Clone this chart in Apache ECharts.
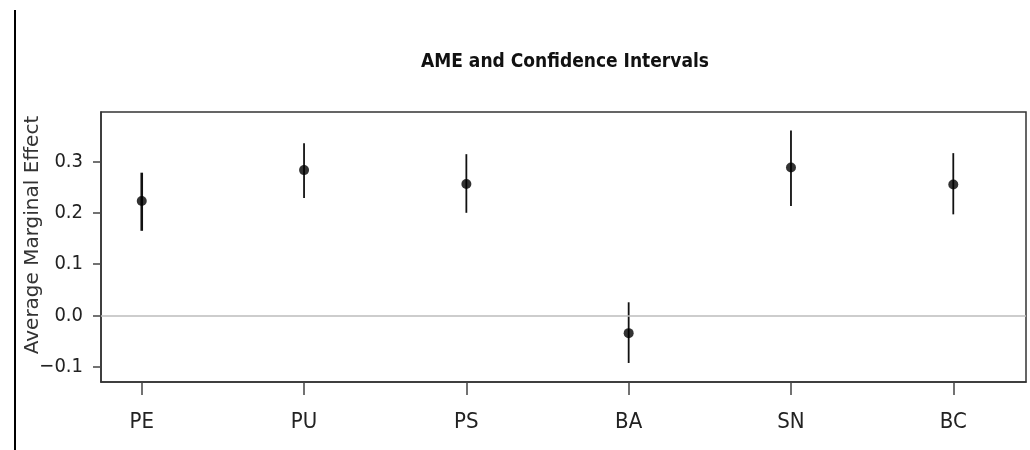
<!DOCTYPE html>
<html>
<head>
<meta charset="utf-8">
<script src="https://cdn.jsdelivr.net/npm/echarts@6/dist/echarts.min.js"></script>
<style>
html,body{margin:0;padding:0;background:#fff;}
#chart{width:1030px;height:450px;}
</style>
</head>
<body>
<div id="chart"></div>
<script>
// Data
const categories = ['PE', 'PU', 'PS', 'BA', 'SN', 'BC'];
const ame = [0.223, 0.283, 0.256, -0.034, 0.288, 0.255];
const ciLow = [0.165, 0.229, 0.200, -0.092, 0.213, 0.197];
const ciHigh = [0.278, 0.335, 0.314, 0.026, 0.360, 0.316];
const yTicks = [-0.1, 0.0, 0.1, 0.2, 0.3];
const titleText = 'AME and Confidence Intervals';
const yName = 'Average Marginal Effect';

const xIdx = categories.map((c, i) => i + 1);
const pointData = categories.map((c, i) => [i + 1, ame[i]]);
const barData = categories.map((c, i) => [i + 1, ciLow[i], ciHigh[i]]);

const chart = echarts.init(document.getElementById('chart'), null, {renderer: 'canvas'});
const narrow = "'Liberation Sans Narrow', 'DejaVu Sans Condensed', sans-serif";

chart.setOption({
  backgroundColor: '#ffffff',
  animation: false,
  title: {
    text: titleText,
    left: 560,
    top: 48,
    textAlign: 'center',
    textStyle: {fontFamily: narrow, fontWeight: 'bold', fontSize: 19, color: '#111'}
  },
  graphic: [
    {type: 'line', shape: {x1: 15, y1: 10, x2: 15, y2: 450}, style: {stroke: '#000', lineWidth: 2}},
    {type: 'text', x: 33, y: 235, rotation: Math.PI / 2,
     style: {text: yName, fontFamily: "'DejaVu Sans', sans-serif", fontSize: 20, fill: '#333', align: 'center', verticalAlign: 'middle'}}
  ],
  grid: {left: 101, right: 4, top: 112, bottom: 68, show: true, borderColor: '#333', borderWidth: 1.5, backgroundColor: 'transparent'},
  xAxis: {
    type: 'value', min: 0.749, max: 6.448,
    splitLine: {show: false},
    axisLine: {show: true, onZero: false, lineStyle: {color: '#333', width: 1.5}},
    axisTick: {show: true, length: 13, customValues: xIdx, lineStyle: {color: '#444', width: 1.5}},
    axisLabel: {customValues: xIdx, margin: 29, fontFamily: narrow, fontSize: 22, color: '#222',
      formatter: v => categories[Math.round(v) - 1] || ''}
  },
  yAxis: {
    type: 'value', min: -0.129, max: 0.396,
    splitLine: {show: false},
    axisLine: {show: true, onZero: false, lineStyle: {color: '#333', width: 1.5}},
    axisTick: {show: true, length: 8, customValues: yTicks, lineStyle: {color: '#444', width: 1.5}},
    axisLabel: {customValues: yTicks, margin: 18, fontFamily: narrow, fontSize: 20, color: '#222',
      formatter: v => (v < 0 ? '\u2212' + Math.abs(v).toFixed(1) : v.toFixed(1))}
  },
  series: [
    {
      type: 'line', data: [], silent: true,
      markLine: {
        symbol: 'none', silent: true, label: {show: false},
        lineStyle: {color: '#bdbdbd', width: 1.5, type: 'solid'},
        data: [{yAxis: 0}]
      }
    },
    {
      type: 'custom',
      data: barData,
      silent: true,
      renderItem: function (params, api) {
        const x = api.value(0);
        const lo = api.coord([x, api.value(1)]);
        const hi = api.coord([x, api.value(2)]);
        return {
          type: 'line',
          shape: {x1: lo[0], y1: lo[1], x2: hi[0], y2: hi[1]},
          style: {stroke: '#111', lineWidth: params.dataIndex === 0 ? 2.6 : 1.8}
        };
      }
    },
    {
      type: 'scatter',
      data: pointData,
      symbol: 'circle',
      symbolSize: 10,
      itemStyle: {color: '#000'},
      z: 5
    }
  ]
});
</script>
</body>
</html>
